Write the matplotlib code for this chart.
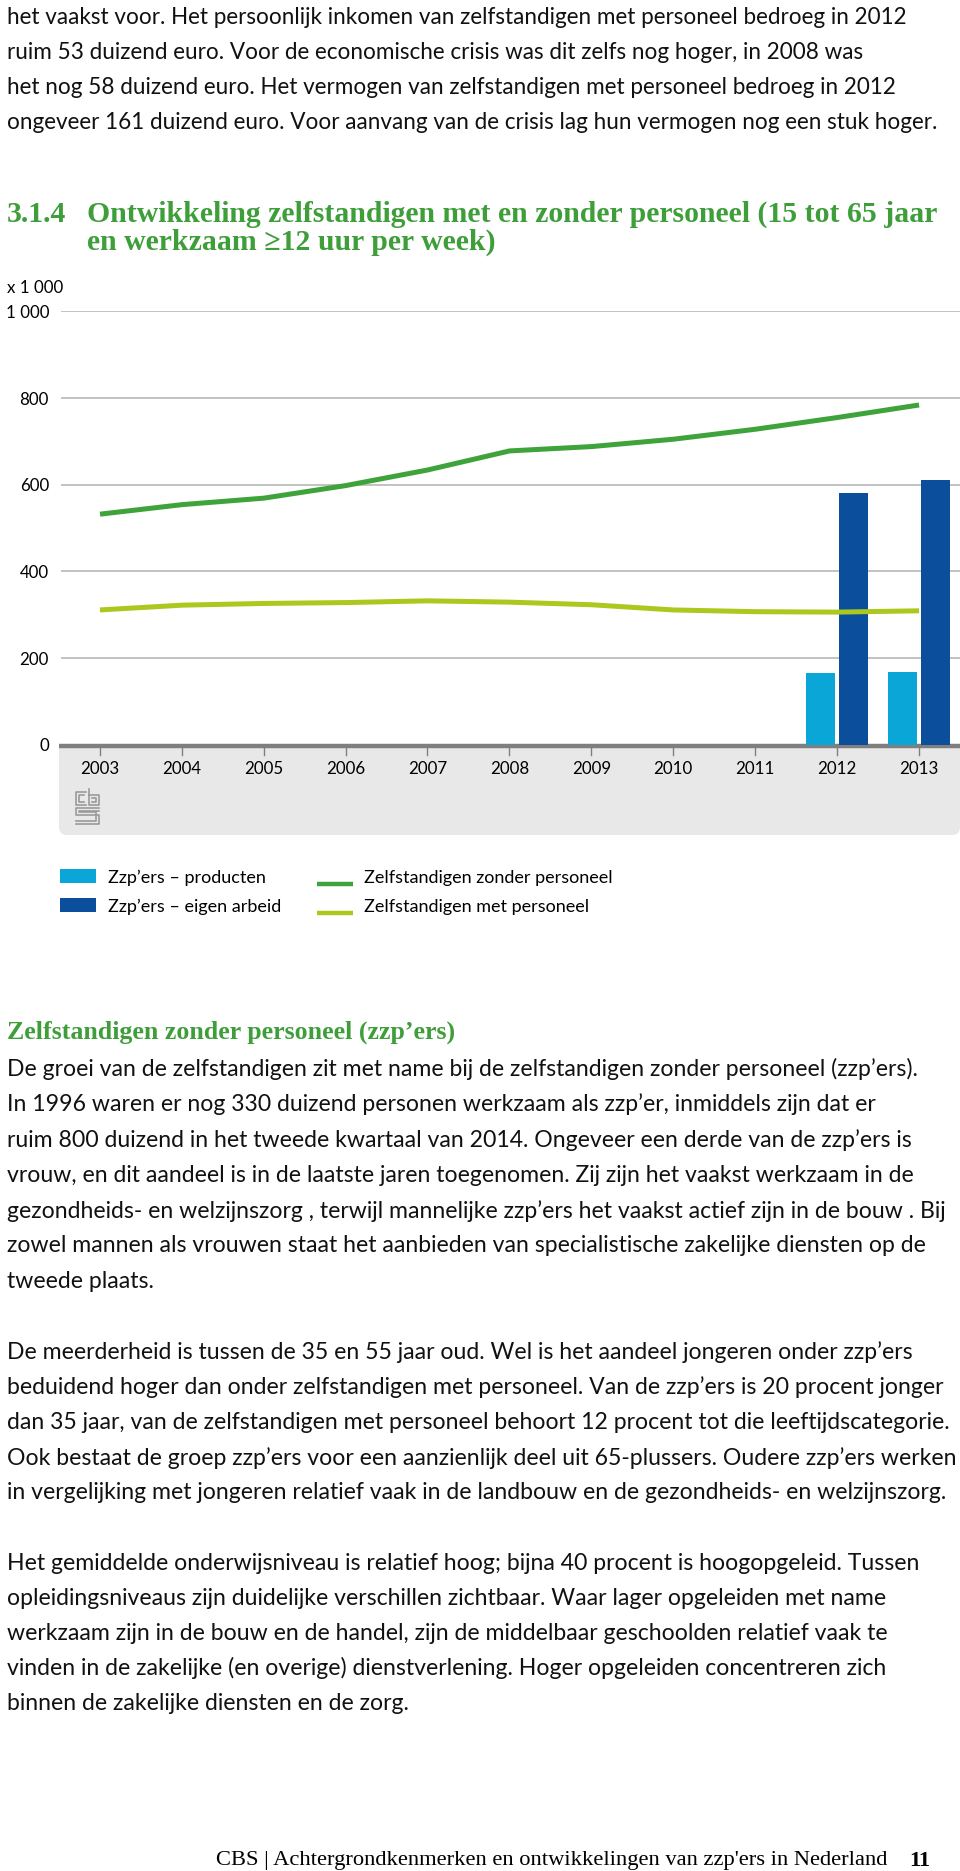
import matplotlib
matplotlib.use("Agg")
import matplotlib.pyplot as plt
from matplotlib.patches import Rectangle, FancyBboxPatch

# Data (x 1 000)
years = [2003, 2004, 2005, 2006, 2007, 2008, 2009, 2010, 2011, 2012, 2013]
zonder_personeel = [532, 554, 569, 598, 634, 678, 688, 705, 728, 755, 784]
met_personeel = [311, 322, 326, 328, 332, 329, 323, 311, 307, 306, 309]
bar_years = [2012, 2013]
producten = [166, 167]
eigen_arbeid = [580, 612]
y_ticks = [0, 200, 400, 600, 800, 1000]
y_labels = ["0", "200", "400", "600", "800", "1 000"]

legend_bars = ["Zzp’ers – producten", "Zzp’ers – eigen arbeid"]
legend_lines = ["Zelfstandigen zonder personeel", "Zelfstandigen met personeel"]

top_text = [
    "het vaakst voor. Het persoonlijk inkomen van zelfstandigen met personeel bedroeg in 2012",
    "ruim 53 duizend euro. Voor de economische crisis was dit zelfs nog hoger, in 2008 was",
    "het nog 58 duizend euro. Het vermogen van zelfstandigen met personeel bedroeg in 2012",
    "ongeveer 161 duizend euro. Voor aanvang van de crisis lag hun vermogen nog een stuk hoger.",
]
para1 = [
    "De groei van de zelfstandigen zit met name bij de zelfstandigen zonder personeel (zzp’ers).",
    "In 1996 waren er nog 330 duizend personen werkzaam als zzp’er, inmiddels zijn dat er",
    "ruim 800 duizend in het tweede kwartaal van 2014. Ongeveer een derde van de zzp’ers is",
    "vrouw, en dit aandeel is in de laatste jaren toegenomen. Zij zijn het vaakst werkzaam in de",
    "gezondheids- en welzijnszorg , terwijl mannelijke zzp’ers het vaakst actief zijn in de bouw . Bij",
    "zowel mannen als vrouwen staat het aanbieden van specialistische zakelijke diensten op de",
    "tweede plaats.",
]
para2 = [
    "De meerderheid is tussen de 35 en 55 jaar oud. Wel is het aandeel jongeren onder zzp’ers",
    "beduidend hoger dan onder zelfstandigen met personeel. Van de zzp’ers is 20 procent jonger",
    "dan 35 jaar, van de zelfstandigen met personeel behoort 12 procent tot die leeftijdscategorie.",
    "Ook bestaat de groep zzp’ers voor een aanzienlijk deel uit 65-plussers. Oudere zzp’ers werken",
    "in vergelijking met jongeren relatief vaak in de landbouw en de gezondheids- en welzijnszorg.",
]
para3 = [
    "Het gemiddelde onderwijsniveau is relatief hoog; bijna 40 procent is hoogopgeleid. Tussen",
    "opleidingsniveaus zijn duidelijke verschillen zichtbaar. Waar lager opgeleiden met name",
    "werkzaam zijn in de bouw en de handel, zijn de middelbaar geschoolden relatief vaak te",
    "vinden in de zakelijke (en overige) dienstverlening. Hoger opgeleiden concentreren zich",
    "binnen de zakelijke diensten en de zorg.",
]

# colours
c_light_blue = "#0aa6d8"
c_dark_blue = "#0a4e9c"
c_green = "#3ea33b"
c_lime = "#aac81e"
c_title = "#3e9e3a"
c_grid = "#b8b8b8"
c_axis = "#7f7f7f"
c_band = "#e8e8e8"

sans = ["Lato", "DejaVu Sans"]
serif = ["Liberation Serif", "DejaVu Serif"]

W, H = 960, 1871
fig = plt.figure(figsize=(W / 100, H / 100), dpi=100)
renderer = fig.canvas.get_renderer()

# page axes in pixel units (y downwards)
page = fig.add_axes([0, 0, 1, 1])
page.set_xlim(0, W)
page.set_ylim(H, 0)
page.axis("off")


def fit(txt, width, **kw):
    # font size that gives the text the wanted pixel width
    t = page.text(0, 0, txt, fontsize=10, **kw)
    w = t.get_window_extent(renderer).width
    t.remove()
    return 10 * width / w


body_fs = fit(para2[2], 945, family=sans)
top_fs = fit(top_text[3], 930, family=sans)


def lines(txt_list, y0, step, fs):
    for i, s in enumerate(txt_list):
        page.text(7, y0 + i * step, s, fontsize=fs, family=sans,
                  va="center_baseline", color="#111111")


lines(top_text, 15, 35.3, top_fs)

# chart title
title_fs = fit("Ontwikkeling zelfstandigen met en zonder personeel (15 tot 65 jaar",
               855, family=serif, weight="bold")
page.text(7, 211, "3.1.4", fontsize=title_fs, family=serif, weight="bold",
          color=c_title, va="center_baseline")
page.text(87, 211, "Ontwikkeling zelfstandigen met en zonder personeel (15 tot 65 jaar",
          fontsize=title_fs, family=serif, weight="bold", color=c_title,
          va="center_baseline")
page.text(87, 239, "en werkzaam ≥12 uur per week)", fontsize=title_fs, family=serif,
          weight="bold", color=c_title, va="center_baseline")

small_fs = fit("2003", 39, family=sans)
page.text(7, 286, "x 1 000", fontsize=small_fs, family=sans, va="center_baseline")

# gray band under the x axis
page.add_patch(FancyBboxPatch((59, 745), 901, 90, boxstyle="round,pad=0,rounding_size=8",
                              fc=c_band, ec="none", zorder=1))
page.add_patch(Rectangle((59, 745), 901, 30, fc=c_band, ec="none", zorder=1))

# CBS logo (rough)
logo = dict(color="#9a9a9a", lw=1.2, zorder=2)
page.plot([86, 76, 76, 86], [792, 792, 805, 805], **logo)
page.plot([84, 79, 79, 84], [795, 795, 802, 802], **logo)
page.plot([89, 89, 99, 99, 89], [789, 805, 805, 795, 795], **logo)
page.plot([92, 96, 96, 92], [798, 798, 802, 802], **logo)
page.plot([99, 76, 76, 99, 99, 76], [808, 808, 815, 815, 824, 824], **logo)
page.plot([99, 79, 79, 96, 96, 76], [811, 811, 812, 812, 821, 821], **logo)

# chart axes
left, right, top_px, bot_px = 61, 960, 311.4, 744.7
ax = fig.add_axes([left / W, 1 - bot_px / H, (right - left) / W, (bot_px - top_px) / H])
ax.set_facecolor("none")
ax.set_ylim(0, 1000)
ax.set_xlim(2002.524, 2013.5)
for s in ax.spines.values():
    s.set_visible(False)
ax.set_xticks([])
ax.set_yticks([])
for v in y_ticks[1:]:
    ax.axhline(v, color=c_grid, lw=1.2, zorder=0)

bw = 0.354
ax.bar([y - 0.2 for y in bar_years], producten, width=bw, color=c_light_blue, zorder=2)
ax.bar([y + 0.197 for y in bar_years], eigen_arbeid, width=bw, color=c_dark_blue, zorder=2)
ax.plot(years, zonder_personeel, color=c_green, lw=3.6, zorder=3, solid_capstyle="butt")
ax.plot(years, met_personeel, color=c_lime, lw=3.6, zorder=3, solid_capstyle="butt")

# thick zero line, ticks and labels on the page
page.plot([59, 960], [746, 746], color=c_axis, lw=3.2, zorder=3, solid_capstyle="butt")
x0, dx = 100, 81.87
for i, yr in enumerate(years):
    x = x0 + i * dx
    page.plot([x, x], [747, 755], color=c_axis, lw=1, zorder=3)
    page.text(x, 768, str(yr), fontsize=small_fs, family=sans, ha="center",
              va="center_baseline", zorder=3)
for v, lab in zip(y_ticks, y_labels):
    page.text(49, bot_px - v * (bot_px - top_px) / 1000, lab, fontsize=small_fs,
              family=sans, ha="right", va="center_baseline")

# legend
leg_fs = fit(legend_bars[1], 174, family=sans)
for i, (lab, col) in enumerate(zip(legend_bars, [c_light_blue, c_dark_blue])):
    yc = 876 + i * 29
    page.add_patch(Rectangle((60, yc - 7), 36, 14, fc=col, ec="none"))
    page.text(108, yc, lab, fontsize=leg_fs, family=sans, va="center_baseline")
for i, (lab, col) in enumerate(zip(legend_lines, [c_green, c_lime])):
    yc = 876 + i * 29
    page.plot([317, 353], [yc + 8, yc + 8], color=col, lw=3.2, solid_capstyle="butt")
    page.text(364, yc, lab, fontsize=leg_fs, family=sans, va="center_baseline")

# section heading and paragraphs
head_fs = fit("Zelfstandigen zonder personeel (zzp’ers)", 451, family=serif, weight="bold")
page.text(7, 1030, "Zelfstandigen zonder personeel (zzp’ers)", fontsize=head_fs,
          family=serif, weight="bold", color=c_title, va="center_baseline")
lines(para1, 1067, 35.4, body_fs)
lines(para2, 1350, 35.2, body_fs)
lines(para3, 1561, 35.1, body_fs)

# footer
foot = "CBS | Achtergrondkenmerken en ontwikkelingen van zzp'ers in Nederland"
foot_fs = fit(foot, 671, family=serif)
page.text(216, 1858, foot, fontsize=foot_fs, family=serif, va="center_baseline")
page.text(930, 1858, "11", fontsize=foot_fs, family=serif, weight="bold", ha="right",
          va="center_baseline")

fig.savefig("out.png", dpi=100)
